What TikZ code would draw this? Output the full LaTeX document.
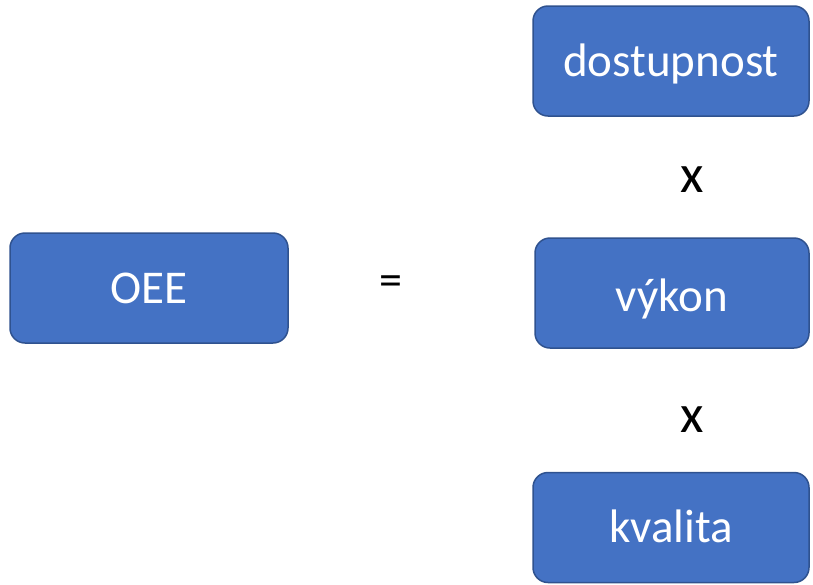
\documentclass[tikz,border=0pt]{standalone}
\usepackage{fontspec}
\setmainfont{Carlito}
\definecolor{boxfill}{HTML}{4472C4}
\definecolor{boxline}{HTML}{2F528F}
\begin{document}
\begin{tikzpicture}[x=1pt,y=-1pt,
  blk/.style={draw=boxline,line width=1.5pt,fill=boxfill,rounded corners=15pt,
    minimum width=#1,minimum height=110pt,inner sep=0pt,text=white,
    text height=34pt,text depth=4pt,
    font=\fontsize{47}{54}\selectfont},
  op/.style={inner sep=0pt,font=\fontsize{54}{60}\selectfont},
  eqs/.style={inner sep=0pt,font=\fontsize{46}{50}\selectfont}]
\useasboundingbox (0,0) rectangle (813,584);
\node[blk=278pt] (oee) at (149,288) {OEE};
\node[blk=276pt] (dost) at (671,61) {dostupnost};
\node[blk=274pt,text height=40pt] (vykon) at (672,293) {výkon};
\node[blk=276pt] (kval) at (671,527.5) {kvalita};
\node[eqs] (eq) at (391,286) {=};
\node[op] (x1) at (692,179.5) {x};
\node[op] (x2) at (692,419.5) {x};
\end{tikzpicture}
\end{document}
